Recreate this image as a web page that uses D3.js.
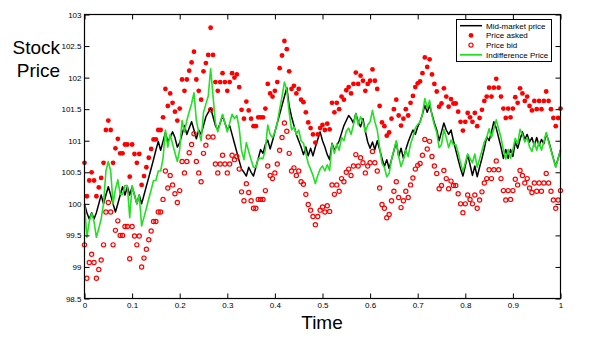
<!DOCTYPE html>
<html><head><meta charset="utf-8">
<script src="https://cdn.jsdelivr.net/npm/d3@7/dist/d3.min.js"></script>
<style>body{margin:0;background:#fff}svg{display:block}</style>
</head><body>
<svg id="chart" width="604" height="340"></svg>
<script>
// ---- data; one value per time step of 0.005 ----
const timeStep = 0.005;
const midPrice = [
100.00,99.86,99.76,99.86,99.76,99.86,100.00,100.14,100.00,100.14,
100.27,100.14,100.00,99.87,100.00,100.14,100.27,100.14,100.27,100.14,
100.27,100.14,100.00,100.14,100.00,100.14,100.28,100.42,100.56,100.70,
100.85,100.99,100.85,100.99,101.13,100.99,101.05,101.14,101.05,100.90,
100.97,101.10,101.24,101.10,101.20,101.30,101.17,101.03,101.17,101.10,
101.24,101.38,101.45,101.52,101.38,101.24,101.17,101.28,101.40,101.28,
101.17,101.24,101.10,100.96,100.82,100.68,100.55,100.50,100.44,100.58,
100.50,100.44,100.58,100.72,100.86,100.80,100.94,101.01,100.87,101.00,
101.14,101.28,101.42,101.56,101.70,101.84,101.55,101.38,101.24,101.10,
101.00,100.90,100.78,100.90,100.76,100.88,100.76,100.90,101.02,101.14,
101.00,100.90,100.78,100.70,100.96,100.85,100.92,101.00,101.12,101.24,
101.32,101.40,101.35,101.28,101.43,101.30,101.22,101.35,101.15,100.98,
100.88,100.98,100.86,101.00,100.86,100.72,100.59,100.70,100.56,100.70,
100.84,100.98,100.75,100.88,100.72,100.86,100.98,101.08,101.17,101.10,
101.22,101.30,101.42,101.56,101.45,101.56,101.42,101.28,101.17,101.00,
101.14,101.28,101.17,101.10,101.17,101.00,100.85,100.70,100.56,100.44,
100.60,100.78,100.62,100.45,100.60,100.43,100.58,100.72,100.88,101.06,
101.00,101.14,101.30,101.20,101.05,100.90,100.72,100.86,100.72,100.86,
100.75,100.98,100.88,101.02,101.14,101.02,101.10,100.98,101.05,100.92,
101.05,100.92,101.02,100.95,101.11,101.00,100.86,100.72,100.59,100.72,
100.85];
const indifferencePrice = [
100.00,99.47,99.72,99.85,99.72,99.47,99.61,99.76,100.00,100.52,
100.67,100.52,100.00,100.23,100.38,100.15,100.15,100.29,100.29,99.78,
100.29,100.14,100.00,100.14,99.65,99.79,99.93,100.08,100.22,100.37,
100.37,100.52,100.52,100.72,101.17,100.90,101.10,100.95,100.81,100.67,
100.86,101.32,101.14,101.32,101.46,101.59,101.76,101.32,101.14,101.00,
101.45,101.58,101.71,102.14,101.71,101.28,101.14,101.28,101.42,101.28,
101.14,101.28,101.42,101.35,101.40,101.20,100.84,100.70,100.97,100.83,
100.70,100.58,100.58,100.72,100.72,100.72,100.86,101.25,101.10,101.05,
101.14,101.28,101.50,101.70,101.93,101.80,101.45,101.17,101.22,101.10,
101.17,101.00,100.96,100.80,100.64,100.55,100.45,100.32,100.45,100.55,
100.60,100.52,100.62,100.53,100.95,100.80,100.95,100.85,101.05,101.00,
101.15,101.20,101.10,101.25,101.43,101.25,101.38,101.30,101.14,101.25,
101.30,101.48,101.30,101.17,100.90,100.64,100.58,100.43,100.48,100.70,
100.85,101.00,100.75,100.59,100.70,100.85,100.75,100.95,101.06,101.20,
101.26,101.29,101.42,101.67,101.52,101.64,101.40,101.25,101.13,100.89,
100.94,101.18,101.05,100.89,101.01,100.94,100.94,100.81,100.65,100.51,
100.65,100.79,100.72,100.65,100.79,100.58,100.71,100.84,100.98,101.05,
101.19,101.05,101.19,101.33,101.19,101.05,100.86,100.71,100.86,100.72,
100.86,101.04,100.95,101.18,101.10,100.98,101.05,100.90,100.83,100.98,
100.85,100.98,100.85,100.98,101.13,100.98,100.85,100.71,100.58,100.71,
100.86];
const priceAsked = [
100.65,100.12,100.37,100.50,100.37,100.12,100.26,100.41,100.65,101.17,
101.32,101.17,100.65,100.88,101.03,100.80,100.80,100.94,100.94,100.43,
100.94,100.79,100.65,100.79,100.30,100.44,100.58,100.73,100.87,101.02,
101.02,101.17,101.17,101.37,101.82,101.55,101.75,101.60,101.46,101.32,
101.51,101.97,101.79,101.97,102.11,102.24,102.41,101.97,101.79,101.65,
102.10,102.23,102.36,102.79,102.36,101.93,101.79,101.93,102.07,101.93,
101.79,101.93,102.07,102.00,102.05,101.85,101.49,101.35,101.62,101.48,
101.35,101.23,101.23,101.37,101.37,101.37,101.51,101.90,101.75,101.70,
101.79,101.93,102.15,102.35,102.58,102.45,102.10,101.82,101.87,101.75,
101.82,101.65,101.61,101.45,101.29,101.20,101.10,100.97,101.10,101.20,
101.25,101.17,101.27,101.18,101.60,101.45,101.60,101.50,101.70,101.65,
101.80,101.85,101.75,101.90,102.08,101.90,102.03,101.95,101.79,101.90,
101.95,102.13,101.95,101.82,101.55,101.29,101.23,101.08,101.13,101.35,
101.50,101.65,101.40,101.24,101.35,101.50,101.40,101.60,101.71,101.85,
101.91,101.94,102.07,102.32,102.17,102.29,102.05,101.90,101.78,101.54,
101.59,101.83,101.70,101.54,101.66,101.59,101.59,101.46,101.30,101.16,
101.30,101.44,101.37,101.30,101.44,101.23,101.36,101.49,101.63,101.70,
101.84,101.70,101.84,101.98,101.84,101.70,101.51,101.36,101.51,101.37,
101.51,101.69,101.60,101.83,101.75,101.63,101.70,101.55,101.48,101.63,
101.50,101.63,101.50,101.63,101.78,101.63,101.50,101.36,101.23,101.36,
101.51];
const priceBid = [
99.35,98.82,99.07,99.20,99.07,98.82,98.96,99.11,99.35,99.87,
100.02,99.87,99.35,99.58,99.73,99.50,99.50,99.64,99.64,99.13,
99.64,99.49,99.35,99.49,99.00,99.14,99.28,99.43,99.57,99.72,
99.72,99.87,99.87,100.07,100.52,100.25,100.45,100.30,100.16,100.02,
100.21,100.67,100.49,100.67,100.81,100.94,101.11,100.67,100.49,100.35,
100.80,100.93,101.06,101.49,101.06,100.63,100.49,100.63,100.77,100.63,
100.49,100.63,100.77,100.70,100.75,100.55,100.19,100.05,100.32,100.18,
100.05,99.93,99.93,100.07,100.07,100.07,100.21,100.60,100.45,100.40,
100.49,100.63,100.85,101.05,101.28,101.15,100.80,100.52,100.57,100.45,
100.52,100.35,100.31,100.15,99.99,99.90,99.80,99.67,99.80,99.90,
99.95,99.87,99.97,99.88,100.30,100.15,100.30,100.20,100.40,100.35,
100.50,100.55,100.45,100.60,100.78,100.60,100.73,100.65,100.49,100.60,
100.65,100.83,100.65,100.52,100.25,99.99,99.93,99.78,99.83,100.05,
100.20,100.35,100.10,99.94,100.05,100.20,100.10,100.30,100.41,100.55,
100.61,100.64,100.77,101.02,100.87,100.99,100.75,100.60,100.48,100.24,
100.29,100.53,100.40,100.24,100.36,100.29,100.29,100.16,100.00,99.86,
100.00,100.14,100.07,100.00,100.14,99.93,100.06,100.19,100.33,100.40,
100.54,100.40,100.54,100.68,100.54,100.40,100.21,100.06,100.21,100.07,
100.21,100.39,100.30,100.53,100.45,100.33,100.40,100.25,100.18,100.33,
100.20,100.33,100.20,100.33,100.48,100.33,100.20,100.06,99.93,100.06,
100.21];
const xTicks = [0,0.1,0.2,0.3,0.4,0.5,0.6,0.7,0.8,0.9,1];
const yTicks = [98.5,99,99.5,100,100.5,101,101.5,102,102.5,103];
const legendLabels = ["Mid-market price","Price asked","Price bid","Indifference Price"];
const yLabelLines = ["Stock","Price"];
const xLabel = "Time";

// ---- drawing ----
const FONT = "'Liberation Sans', Arial, Helvetica, sans-serif";
const RED = "#ff0000", GREEN = "#22e022";
const svg = d3.select("#chart");
svg.append("rect").attr("width",604).attr("height",340).attr("fill","#fff");

const box = {l:84.5, r:560.5, t:14.5, b:298.5};
const x = d3.scaleLinear().domain([0,1]).range([box.l, box.r]);
const y = d3.scaleLinear().domain([98.5,103]).range([box.b, box.t]);
const tOf = i => i*timeStep;

const plot = svg.append("g");

// mid-market price
plot.append("path").datum(midPrice)
  .attr("fill","none").attr("stroke","#000").attr("stroke-width",1.5)
  .attr("stroke-linejoin","round")
  .attr("d", d3.line().x((d,i)=>x(tOf(i))).y(d=>y(d)));

// asked (filled dots)
plot.append("g").selectAll("circle").data(priceAsked).join("circle")
  .attr("cx",(d,i)=>x(tOf(i))).attr("cy",d=>y(d)).attr("r",2.4).attr("fill",RED);

// bid (open circles)
plot.append("g").selectAll("circle").data(priceBid).join("circle")
  .attr("cx",(d,i)=>x(tOf(i))).attr("cy",d=>y(d)).attr("r",2.1)
  .attr("fill","none").attr("stroke",RED).attr("stroke-width",1.2);

// indifference price
plot.append("path").datum(indifferencePrice)
  .attr("fill","none").attr("stroke",GREEN).attr("stroke-width",1.6)
  .attr("stroke-linejoin","round")
  .attr("d", d3.line().x((d,i)=>x(tOf(i))).y(d=>y(d)));

// axes
const fmt = d => String(d);
function styleAxis(g){
  g.select(".domain").remove();
  g.selectAll("line").attr("stroke","#000").attr("stroke-width",1);
  g.selectAll("text").attr("font-family",FONT).attr("font-size",8).attr("fill","#000");
}
svg.append("g").attr("transform",`translate(0,${box.b})`)
  .call(d3.axisBottom(x).tickValues(xTicks).tickFormat(fmt).tickSizeInner(-5).tickSizeOuter(0).tickPadding(4))
  .call(styleAxis);
svg.append("g").attr("transform",`translate(0,${box.t})`)
  .call(d3.axisTop(x).tickValues(xTicks).tickFormat("").tickSizeInner(-5).tickSizeOuter(0))
  .call(styleAxis);
svg.append("g").attr("transform",`translate(${box.l},0)`)
  .call(d3.axisLeft(y).tickValues(yTicks).tickFormat(fmt).tickSizeInner(-5).tickSizeOuter(0).tickPadding(3))
  .call(styleAxis);
svg.append("g").attr("transform",`translate(${box.r},0)`)
  .call(d3.axisRight(y).tickValues(yTicks).tickFormat("").tickSizeInner(-5).tickSizeOuter(0))
  .call(styleAxis);

svg.append("rect").attr("x",box.l).attr("y",box.t)
  .attr("width",box.r-box.l).attr("height",box.b-box.t)
  .attr("fill","none").attr("stroke","#000").attr("stroke-width",1.2);

// axis titles
svg.append("text").attr("x",322).attr("y",329).attr("text-anchor","middle")
  .attr("font-family",FONT).attr("font-size",19).text(xLabel);
yLabelLines.forEach((s,k)=>{
  svg.append("text").attr("x",60).attr("y",54+k*23).attr("text-anchor","end")
    .attr("font-family",FONT).attr("font-size",19).text(s);
});

// legend
const lg = svg.append("g");
lg.append("rect").attr("x",456.5).attr("y",19.5).attr("width",95).attr("height",42)
  .attr("fill","#fff").attr("stroke","#000").attr("stroke-width",1);
legendLabels.forEach((lab,k)=>{
  const yy = 25.7 + k*9.7;
  if(k===0||k===3){
    lg.append("line").attr("x1",460).attr("x2",482).attr("y1",yy).attr("y2",yy)
      .attr("stroke",k===0?"#000":GREEN).attr("stroke-width",k===0?1.5:1.8);
  } else if(k===1){
    lg.append("circle").attr("cx",471).attr("cy",yy).attr("r",2.4).attr("fill",RED);
  } else {
    lg.append("circle").attr("cx",471).attr("cy",yy).attr("r",2.1)
      .attr("fill","none").attr("stroke",RED).attr("stroke-width",1.2);
  }
  lg.append("text").attr("x",486).attr("y",yy).attr("dy","0.35em")
    .attr("font-family",FONT).attr("font-size",8).text(lab);
});
</script>
</body></html>
